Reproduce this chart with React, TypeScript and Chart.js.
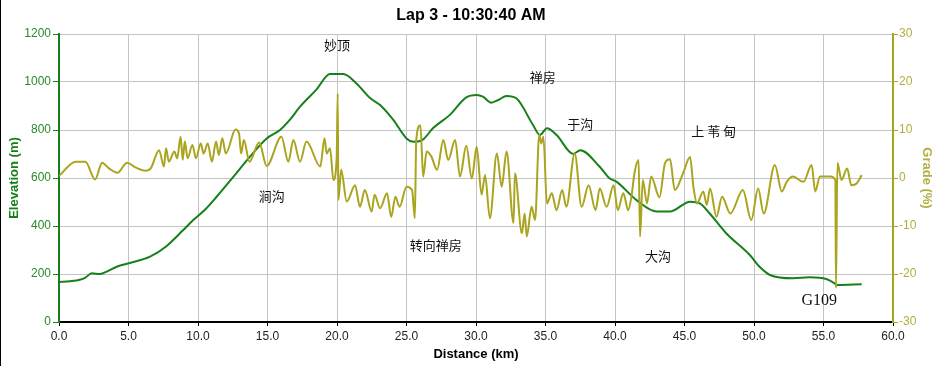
import React, { useEffect, useRef } from "react";
import { Chart, registerables } from "chart.js";

Chart.register(...registerables);

const elevDist = [0, 0.8, 1.5, 1.9, 2.35, 2.95, 3.5, 4.15, 5.1, 6.55, 7.75, 8.94, 9.66, 10.5, 11.34, 12.54, 13.74, 14.94, 15.9, 16.6, 17.34, 18.5, 19.5, 20.45, 21.4, 22.4, 23.1, 24.05, 25.0, 25.5, 26.2, 26.9, 28.1, 29.3, 30.05, 30.5, 31.1, 31.6, 32.2, 32.9, 34.1, 34.6, 35.1, 35.8, 37.0, 37.5, 38.9, 39.6, 40.1, 41.55, 43.0, 43.95, 45.4, 46.1, 46.8, 48.0, 49.7, 50.4, 51.15, 52.8, 54.0, 55.2, 55.8, 55.95, 57.75];
const elevValues = [167, 170, 176, 185, 203, 200, 212, 230, 246, 272, 317, 383, 425, 468, 522, 605, 689, 765, 800, 842, 897, 967, 1033, 1033, 994, 932, 904, 842, 765, 751, 761, 807, 862, 936, 946, 939, 914, 925, 942, 932, 821, 779, 807, 779, 700, 716, 647, 599, 585, 508, 460, 460, 501, 494, 453, 370, 279, 230, 196, 182, 186, 179, 161, 154, 157];

const gradeDist = [0, 1.2, 1.9, 2.6, 3.1, 3.6, 4.2, 4.9, 5.5, 6.2, 6.6, 7.2, 7.55, 7.7, 7.9, 8.3, 8.5, 8.75, 8.9, 9.05, 9.25, 9.6, 9.85, 10.2, 10.4, 10.7, 11.0, 11.3, 11.5, 11.75, 12.0, 12.7, 12.95, 13.1, 13.3, 13.7, 14.4, 14.94, 16.0, 16.5, 16.86, 17.34, 17.8, 18.8, 19.1, 19.26, 19.5, 19.74, 19.98, 20.05, 20.1, 20.3, 20.7, 21.3, 21.65, 22.0, 22.5, 22.7, 23.1, 23.6, 23.9, 24.2, 24.5, 25.0, 25.4, 25.6, 25.7, 26.0, 26.2, 26.45, 26.8, 27.2, 27.65, 28.0, 28.5, 28.85, 29.3, 29.7, 30.05, 30.4, 30.65, 31.0, 31.5, 31.85, 32.2, 32.7, 32.8, 33.3, 33.5, 33.65, 34.0, 34.25, 34.55, 34.7, 34.85, 35.1, 35.45, 35.8, 36.2, 36.5, 37.1, 37.6, 38.1, 38.6, 38.9, 39.4, 39.9, 40.2, 40.6, 40.95, 41.2, 41.4, 41.7, 41.8, 42.0, 42.3, 42.6, 43.2, 43.6, 43.96, 44.3, 44.9, 45.4, 45.64, 45.9, 46.35, 46.6, 46.84, 47.3, 47.7, 48.3, 49.2, 49.8, 50.3, 50.7, 51.5, 52.0, 52.35, 52.8, 53.55, 54.15, 54.4, 54.75, 55.5, 55.85, 55.9, 56.0, 56.3, 56.7, 57.0, 57.4, 57.75];
const gradeValues = [0.4, 3.4, 3.4, -0.3, 3.2, 2.0, 1.1, 3.2, 2.2, 1.5, 2.0, 5.8, 2.4, 6.2, 3.4, 5.5, 4.1, 8.6, 3.8, 7.6, 4.1, 6.9, 4.1, 7.2, 5.1, 7.2, 3.4, 7.6, 4.8, 8.3, 5.1, 10.1, 9.3, 5.1, 7.9, 3.4, 7.4, 2.5, 8.6, 3.4, 7.9, 3.4, 7.6, 2.4, 8.3, 5.1, 6.2, -0.4, 4.4, 17.6, -4.6, 1.7, -4.9, -1.5, -6.0, -2.5, -7.0, -3.5, -6.3, -3.2, -8.1, -3.9, -6.0, -1.8, -2.5, -8.4, 7.9, 11.0, 0.3, 5.5, 4.4, 1.7, 7.9, 3.75, 7.9, 0.3, 6.7, -0.1, 6.5, -3.5, 0.6, -8.4, 5.1, -1.8, 5.5, -9.4, 1.0, -11.5, -7.4, -12.2, -6.0, -8.75, 9.0, 7.2, 8.6, -5.3, -3.2, -6.7, -2.5, -6.0, 5.1, -6.0, -1.5, -6.7, -2.2, -6.0, -1.5, -6.7, -3.2, -6.7, -3.5, 1.0, 3.75, -12.2, -0.4, -5.3, 0.3, -4.0, 3.1, 3.9, -2.5, 1.0, 4.4, -1.8, -5.3, -2.8, -5.6, -2.2, -8.1, -3.9, -7.4, -2.5, -8.75, -2.2, -7.4, 2.7, -2.8, -0.8, 0.3, -0.8, 2.7, -2.8, 0.3, 0.3, -0.4, -22.9, 3.1, -0.4, 2.0, -1.5, -1.1, 0.6];

const labelTexts = ["妙顶", "禅房", "于沟", "上 苇 甸", "涧沟", "转向禅房", "大沟", "G109"];
const labelDist = [20.0, 34.8, 37.5, 47.1, 15.3, 27.1, 43.1, 54.7];
const labelElev = [1154, 1021, 825, 796, 525, 321, 275, 87];

const xTicks = { min: 0, max: 60, step: 5 };
const elevTicks = { min: 0, max: 1200, step: 200 };
const gradeTicks = { min: -30, max: 30, step: 10 };

const GREEN = "#17801a";
const OLIVE = "#aaa41e";
const tickFont = { family: "Liberation Sans, Arial, sans-serif", size: 12 };
const titleFont = { family: "Liberation Sans, Arial, sans-serif", size: 13, weight: "bold" as const };

export default function App() {
  const ref = useRef<HTMLCanvasElement | null>(null);
  useEffect(() => {
    if (!ref.current) return;
    const labelsPlugin = {
      id: "labelsPlugin",
      beforeDraw(chart: any) {
        const { ctx, width, height } = chart;
        ctx.save();
        ctx.fillStyle = "#ffffff";
        ctx.fillRect(0, 0, width, height);
        ctx.strokeStyle = "#000";
        ctx.lineWidth = 1;
        ctx.beginPath();
        ctx.moveTo(0.5, 0);
        ctx.lineTo(0.5, height);
        ctx.stroke();
        ctx.fillStyle = "#000";
        ctx.font = "bold 16px 'Liberation Sans', Arial, sans-serif";
        ctx.textAlign = "center";
        ctx.textBaseline = "middle";
        ctx.fillText("Lap 3 - 10:30:40 AM", 471, 16);
        ctx.restore();
      },
      afterDatasetsDraw(chart: any) {
        const { ctx, scales } = chart;
        ctx.save();
        ctx.fillStyle = "#111";
        ctx.textAlign = "center";
        ctx.textBaseline = "middle";
        labelTexts.forEach((t, i) => {
          const x = scales.x.getPixelForValue(labelDist[i]);
          const y = scales.yElev.getPixelForValue(labelElev[i]);
          if (t === "G109") ctx.font = "16px 'Liberation Serif', 'Times New Roman', serif";
          else ctx.font = "13px 'Noto Sans CJK SC', sans-serif";
          ctx.fillText(t, x, y);
        });
        ctx.restore();
      },
    };
    const chart = new Chart(ref.current, {
      type: "line",
      data: {
        datasets: [
          {
            label: "Grade",
            data: gradeDist.map((d, i) => ({ x: d, y: gradeValues[i] })),
            yAxisID: "yGrade",
            borderColor: OLIVE,
            borderWidth: 2,
            pointRadius: 0,
            cubicInterpolationMode: "monotone",
            order: 0,
          },
          {
            label: "Elevation",
            data: elevDist.map((d, i) => ({ x: d, y: elevValues[i] })),
            yAxisID: "yElev",
            borderColor: GREEN,
            borderWidth: 2,
            pointRadius: 0,
            cubicInterpolationMode: "monotone",
            order: 1,
          },
        ],
      },
      options: {
        animation: false,
        responsive: false,
        layout: { padding: { top: 34, left: 0, right: 0, bottom: 0 } },
        plugins: { legend: { display: false }, tooltip: { enabled: false }, title: { display: false } },
        scales: {
          x: {
            type: "linear",
            min: xTicks.min,
            max: xTicks.max,
            afterFit: (s: any) => { s.height = 44; },
            ticks: { stepSize: xTicks.step, color: "#222", font: tickFont, padding: 3, callback: (v: any) => Number(v).toFixed(1), maxRotation: 0 },
            grid: { color: "#c4c4c4", lineWidth: 1, tickColor: "#000", tickLength: 4 },
            border: { color: "#000", width: 2 },
            title: { display: true, text: "Distance (km)", color: "#000", font: titleFont, padding: { top: 0, bottom: 4 } },
          },
          yElev: {
            type: "linear",
            position: "left",
            min: elevTicks.min,
            max: elevTicks.max,
            afterFit: (s: any) => { s.width = 59; },
            ticks: { stepSize: elevTicks.step, color: "#2a8a2a", font: tickFont, padding: 2, callback: (v: any) => String(v) },
            grid: { color: "#c4c4c4", lineWidth: 1, tickColor: GREEN, tickLength: 6 },
            border: { color: GREEN, width: 2 },
            title: { display: true, text: "Elevation (m)", color: GREEN, font: titleFont, padding: { top: 7, bottom: 0 } },
          },
          yGrade: {
            type: "linear",
            position: "right",
            min: gradeTicks.min,
            max: gradeTicks.max,
            afterFit: (s: any) => { s.width = 47; },
            ticks: { stepSize: gradeTicks.step, color: "#b4ae3c", font: tickFont, padding: 1, callback: (v: any) => String(v) },
            grid: { drawOnChartArea: false, tickColor: OLIVE, tickLength: 5 },
            border: { color: OLIVE, width: 2 },
            title: { display: true, text: "Grade (%)", color: "#b4ae3c", font: titleFont, padding: { top: 6, bottom: 0 } },
          },
        },
      },
      plugins: [labelsPlugin],
    } as any);
    return () => chart.destroy();
  }, []);
  return (
    <div style={{ position: "fixed", left: 0, top: 0, width: 940, height: 366, background: "#fff" }}>
      <canvas ref={ref} width={940} height={366} style={{ display: "block" }} />
    </div>
  );
}
